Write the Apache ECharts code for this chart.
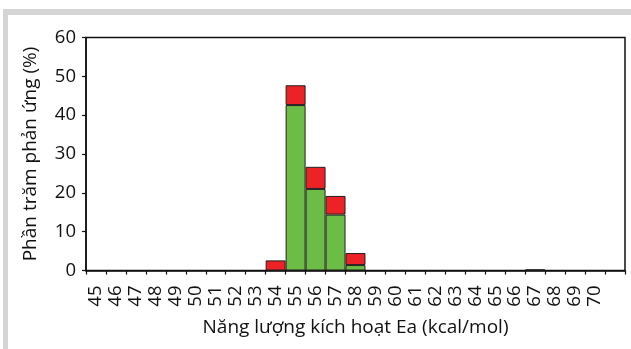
<!DOCTYPE html>
<html>
<head>
<meta charset="utf-8">
<script src="https://cdn.jsdelivr.net/npm/echarts@6/dist/echarts.min.js"></script>
<style>
  html, body { margin: 0; padding: 0; background: #ffffff; }
  #chart { width: 631px; height: 349px; }
</style>
</head>
<body>
<div id="chart"></div>
<script>
// Activation energy bins (kcal/mol); the final bin has no label
const categories = ['45','46','47','48','49','50','51','52','53','54','55','56','57','58',
  '59','60','61','62','63','64','65','66','67','68','69','70',''];

// Reaction percentage per bin, lower (green) and upper (red) parts of each stack
const greenValues = ['-','-','-','-','-','-','-','-','-','-',42.6,21.0,14.4,1.4,
  '-','-','-','-','-','-','-','-',0.3,'-','-','-','-'];
const redValues = ['-','-','-','-','-','-','-','-','-',2.6,5.1,5.7,4.8,3.1,
  '-','-','-','-','-','-','-','-','-','-','-','-','-'];

const yTicks = { min: 0, max: 60, interval: 10 };

const FONT = '"Open Sans", "Noto Sans", sans-serif';
const INK = '#111111';

const chart = echarts.init(document.getElementById('chart'), null, { renderer: 'canvas' });

chart.setOption({
  animation: false,
  backgroundColor: '#ffffff',
  textStyle: { fontFamily: FONT, color: INK },
  graphic: [
    { type: 'rect', shape: { x: 3, y: 9, width: 628, height: 6 }, style: { fill: '#d5d5d5' }, silent: true },
    { type: 'rect', shape: { x: 3, y: 9, width: 5, height: 340 }, style: { fill: '#d5d5d5' }, silent: true }
  ],
  grid: {
    left: 86, top: 37.5, right: 6, bottom: 78.5,
    show: true, borderColor: INK, borderWidth: 1.5, backgroundColor: 'transparent'
  },
  xAxis: {
    type: 'category',
    data: categories,
    boundaryGap: true,
    name: 'Năng lượng kích hoạt Ea (kcal/mol)',
    nameLocation: 'middle',
    nameGap: 48,
    nameTextStyle: { fontFamily: FONT, fontSize: 19, color: INK },
    axisLine: { show: true, lineStyle: { color: INK, width: 1.5 } },
    axisTick: { show: true, inside: false, length: 4, lineStyle: { color: INK, width: 1.2 } },
    axisLabel: { rotate: 90, fontSize: 18.5, color: INK, margin: 15, fontFamily: FONT, interval: 0 },
    splitLine: { show: false }
  },
  yAxis: {
    type: 'value',
    min: yTicks.min, max: yTicks.max, interval: yTicks.interval,
    name: 'Phần trăm phản ứng (%)',
    nameLocation: 'middle',
    nameGap: 46,
    nameRotate: 90,
    nameTextStyle: { fontFamily: FONT, fontSize: 19, color: INK },
    axisLine: { show: true, lineStyle: { color: INK, width: 1.5 } },
    axisTick: { show: true, inside: false, length: 4, lineStyle: { color: INK, width: 1.2 } },
    axisLabel: { fontSize: 18.5, color: INK, margin: 10, fontFamily: FONT },
    splitLine: { show: false }
  },
  series: [
    {
      name: 'green', type: 'bar', stack: 'total', data: greenValues,
      barCategoryGap: '0%', barGap: '0%',
      itemStyle: { color: '#6cbd45', borderColor: '#231f20', borderWidth: 1 }
    },
    {
      name: 'red', type: 'bar', stack: 'total', data: redValues,
      barCategoryGap: '0%', barGap: '0%',
      itemStyle: { color: '#ec2227', borderColor: '#231f20', borderWidth: 1 }
    }
  ]
});
</script>
</body>
</html>
